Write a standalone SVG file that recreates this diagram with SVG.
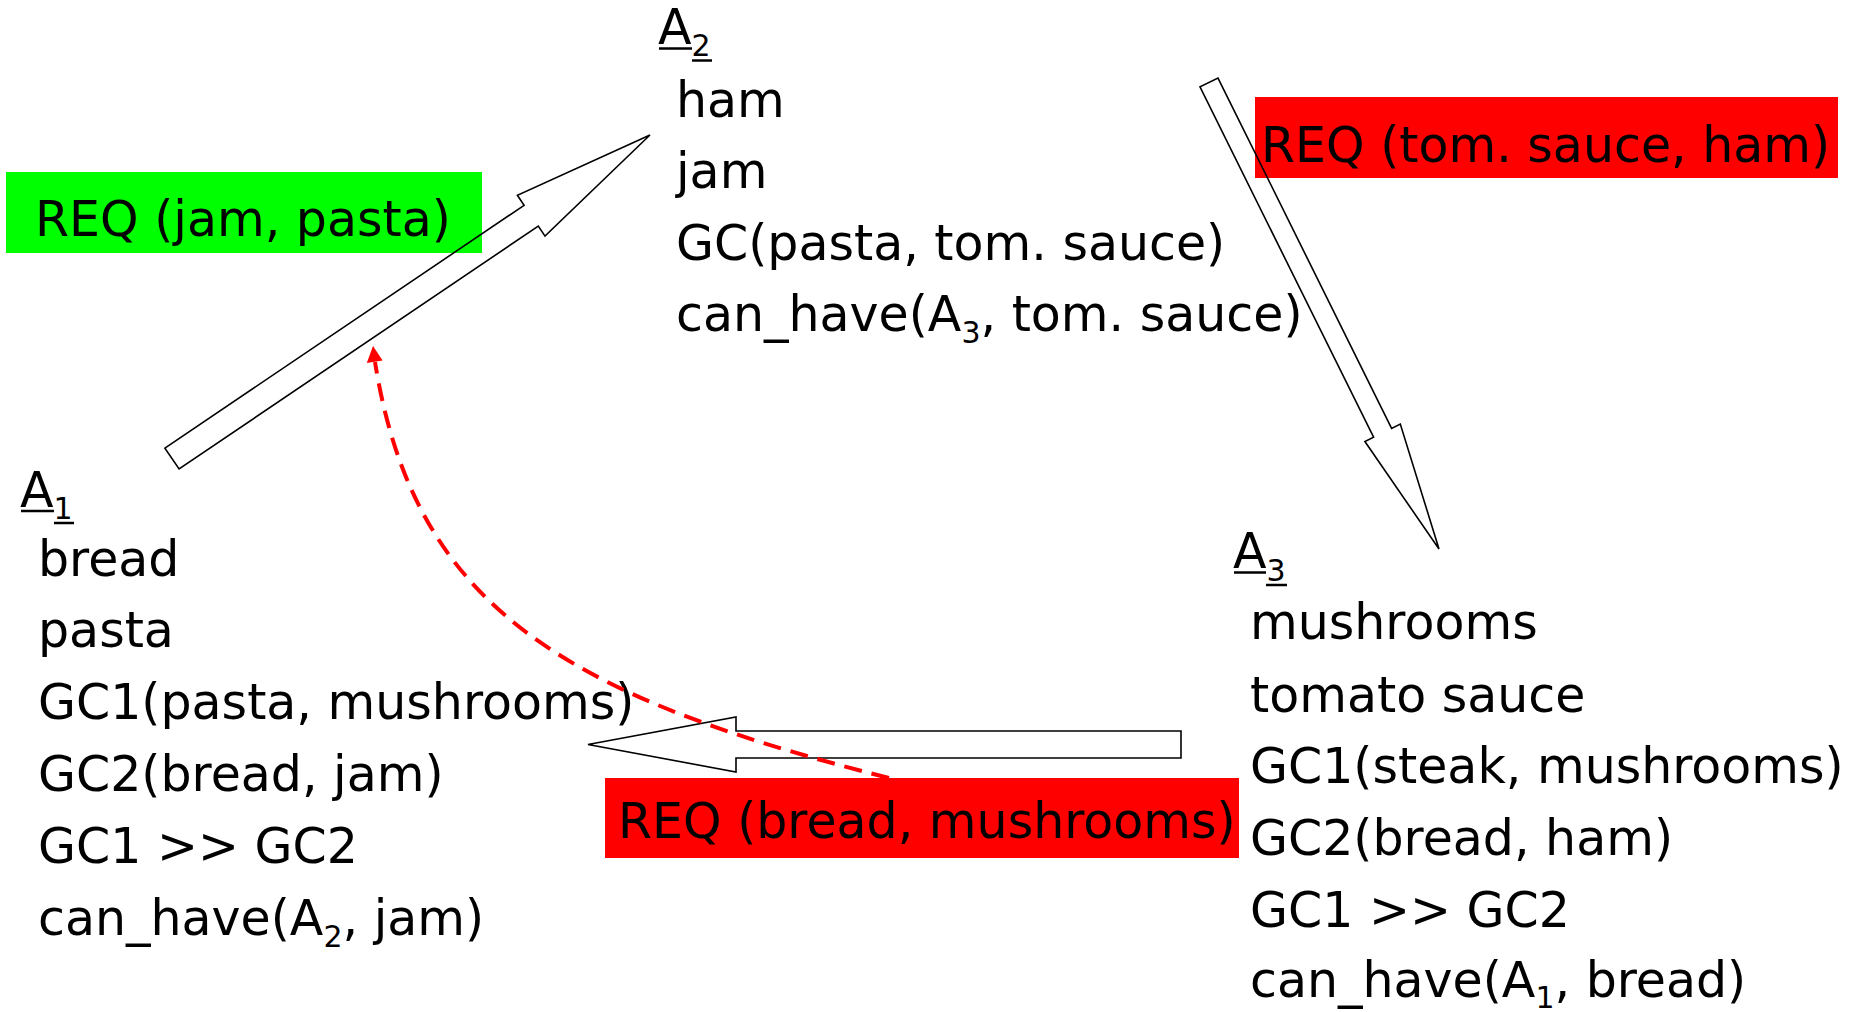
<svg xmlns="http://www.w3.org/2000/svg" width="1858" height="1012" viewBox="0 0 1858 1012">
  <style>
    text { font-family: "DejaVu Sans", "Liberation Sans", sans-serif; font-size: 49px; fill: #000; }
    .sub { font-size: 30px; }
    .ul { stroke: #000; stroke-width: 2.5; }
    .block { fill: none; stroke: #000; stroke-width: 1.6; stroke-linejoin: miter; }
    .dash { fill: none; stroke: #ff0000; stroke-width: 4; stroke-dasharray: 18 10; }
    .head { fill: #ff0000; }
    .green { fill: #00ff00; }
    .red { fill: #ff0000; }
  </style>
  <rect width="1858" height="1012" fill="#ffffff"/>

  <!-- message labels -->
  <g id="req-jam-pasta">
    <rect class="green" x="6" y="172" width="476" height="81"/>
    <text x="35" y="236">REQ (jam, pasta)</text>
  </g>
  <g id="req-tom-sauce-ham">
    <rect class="red" x="1255" y="97" width="583" height="81"/>
    <text x="1261" y="162">REQ (tom. sauce, ham)</text>
  </g>
  <g id="req-bread-mushrooms">
    <rect class="red" x="605" y="778" width="634" height="80"/>
    <text x="618" y="838">REQ (bread, mushrooms)</text>
  </g>

  <!-- agent A2 -->
  <g id="agent-a2">
    <text x="658" y="44">A<tspan class="sub" dy="12">2</tspan></text>
    <line class="ul" x1="659" y1="48.5" x2="692" y2="48.5"/>
    <line class="ul" x1="692" y1="60.5" x2="712" y2="60.5"/>
    <text x="676" y="116.5">ham</text>
    <text x="676" y="188">jam</text>
    <text x="676" y="259.5">GC(pasta, tom. sauce)</text>
    <text x="676" y="331">can_have(A<tspan class="sub" dy="12">3</tspan><tspan dy="-12">, tom. sauce)</tspan></text>
  </g>

  <!-- agent A1 -->
  <g id="agent-a1">
    <text x="20" y="507">A<tspan class="sub" dy="12">1</tspan></text>
    <line class="ul" x1="21" y1="511" x2="54" y2="511"/>
    <line class="ul" x1="54" y1="523" x2="74" y2="523"/>
    <text x="38" y="576">bread</text>
    <text x="38" y="647">pasta</text>
    <text x="38" y="719">GC1(pasta, mushrooms)</text>
    <text x="38" y="791">GC2(bread, jam)</text>
    <text x="38" y="863">GC1 &gt;&gt; GC2</text>
    <text x="38" y="935">can_have(A<tspan class="sub" dy="12">2</tspan><tspan dy="-12">, jam)</tspan></text>
  </g>

  <!-- agent A3 -->
  <g id="agent-a3">
    <text x="1233" y="568">A<tspan class="sub" dy="13">3</tspan></text>
    <line class="ul" x1="1234" y1="572.5" x2="1266" y2="572.5"/>
    <line class="ul" x1="1266" y1="585" x2="1287" y2="585"/>
    <text x="1250" y="639">mushrooms</text>
    <text x="1250" y="712">tomato sauce</text>
    <text x="1250" y="783">GC1(steak, mushrooms)</text>
    <text x="1250" y="855">GC2(bread, ham)</text>
    <text x="1250" y="927">GC1 &gt;&gt; GC2</text>
    <text x="1250" y="997">can_have(A<tspan class="sub" dy="11">1</tspan><tspan dy="-11">, bread)</tspan></text>
  </g>

  <!-- connectors -->
  <g id="connectors">
    <!-- A1 to A2 -->
    <polygon class="block" points="164.9,448.1 524.1,205.3 517.4,195.3 650,135 545,236.1 538.3,226.1 179.1,468.9"/>
    <!-- A2 to A3 -->
    <polygon class="block" points="1218,78.1 1391.6,428.4 1400.3,424.1 1439,549 1364.9,441.5 1373.6,437.2 1200,86.9"/>
    <!-- A3 to A1 -->
    <polygon class="block" points="1181,731 736,731 736,717 588,744.5 736,772 736,758 1181,758"/>
    <!-- dashed back-reference -->
    <path class="dash" d="M889,778 C560,695 414,605 375,362"/>
    <polygon class="head" points="373,346 382.6,360.5 366.8,363.1"/>
  </g>
</svg>
